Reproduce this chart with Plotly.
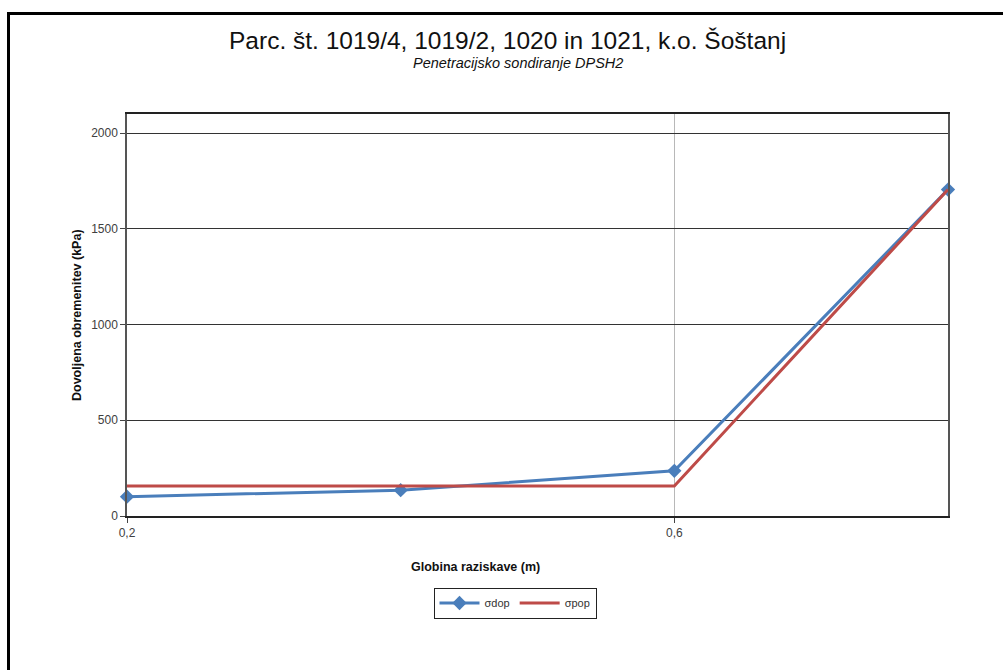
import plotly.graph_objects as go

# Depth of the probe (m) and allowable bearing pressure (kPa)
depth = [0.2, 0.4, 0.6, 0.8]
sigma_dop = [101, 135, 236, 1705]
sigma_pop = [157, 157, 157, 1705]

x_tick_vals = [0.2, 0.6]
x_tick_text = ["0,2", "0,6"]
y_tick_vals = [0, 500, 1000, 1500, 2000]

title_text = "Parc. št. 1019/4, 1019/2, 1020 in 1021, k.o. Šoštanj"
subtitle_text = "Penetracijsko sondiranje DPSH2"
x_title = "Globina raziskave (m)"
y_title = "Dovoljena obremenitev (kPa)"

BLUE = "#4A7EBB"
RED = "#BE4B48"
FONT = "Liberation Sans, Arial, sans-serif"

fig = go.Figure()
fig.add_trace(go.Scatter(
    x=depth, y=sigma_dop, name="σdop", mode="lines+markers",
    line=dict(color=BLUE, width=3),
    marker=dict(symbol="diamond", size=11, color=BLUE),
    cliponaxis=False,
))
fig.add_trace(go.Scatter(
    x=depth, y=sigma_pop, name="σpop", mode="lines",
    line=dict(color=RED, width=3),
    cliponaxis=False,
))

W, H = 1003, 670
L, R, T, B = 127, 55, 114, 154
pw, ph = W - L - R, H - T - B


def px(x):
    return (x - L) / pw


def py(y):
    return (H - B - y) / ph


fig.update_layout(
    width=W, height=H,
    margin=dict(l=L, r=R, t=T, b=B),
    paper_bgcolor="white", plot_bgcolor="white",
    font=dict(family=FONT, color="#222"),
    showlegend=True,
    legend=dict(
        orientation="h", x=px(515), y=py(603), xanchor="center", yanchor="middle",
        bordercolor="#222", borderwidth=1, font=dict(size=11, family=FONT, color="#333"),
        itemwidth=40, tracegroupgap=0,
    ),
    xaxis=dict(
        range=[0.2, 0.8], tickvals=x_tick_vals, ticktext=x_tick_text,
        showgrid=True, gridcolor="#B8B8B8", gridwidth=1,
        showline=True, linecolor="#222", linewidth=1.5, mirror=True,
        ticks="outside", ticklen=5, tickcolor="#444",
        tickfont=dict(size=12, color="#404040"), zeroline=False,
    ),
    yaxis=dict(
        range=[0, 2100], tickvals=y_tick_vals,
        showgrid=True, gridcolor="#333", gridwidth=1,
        showline=True, linecolor="#555", linewidth=1.5, mirror=True,
        ticks="outside", ticklen=5, tickcolor="#444",
        tickfont=dict(size=12, color="#404040"), zeroline=False,
    ),
    annotations=[
        dict(text=title_text, x=px(507), y=py(40), xref="paper", yref="paper",
             showarrow=False, font=dict(size=24.5, family=FONT, color="#111"),
             xanchor="center", yanchor="middle"),
        dict(text="<i>" + subtitle_text + "</i>", x=px(518), y=py(63),
             xref="paper", yref="paper", showarrow=False,
             font=dict(size=14.5, family=FONT, color="#111"),
             xanchor="center", yanchor="middle"),
        dict(text="<b>" + x_title + "</b>", x=px(475), y=py(567),
             xref="paper", yref="paper", showarrow=False,
             font=dict(size=12.5, family=FONT, color="#111"),
             xanchor="center", yanchor="middle"),
        dict(text="<b>" + y_title + "</b>", x=px(77), y=py(315),
             xref="paper", yref="paper", showarrow=False, textangle=-90,
             font=dict(size=12.5, family=FONT, color="#111"),
             xanchor="center", yanchor="middle"),
    ],
    shapes=[
        dict(type="rect", xref="paper", yref="paper",
             x0=px(8.5), y0=py(700), x1=px(1030), y1=py(13.5),
             line=dict(color="black", width=3), fillcolor="rgba(0,0,0,0)",
             layer="above"),
    ],
)

fig.write_html("out.html")
